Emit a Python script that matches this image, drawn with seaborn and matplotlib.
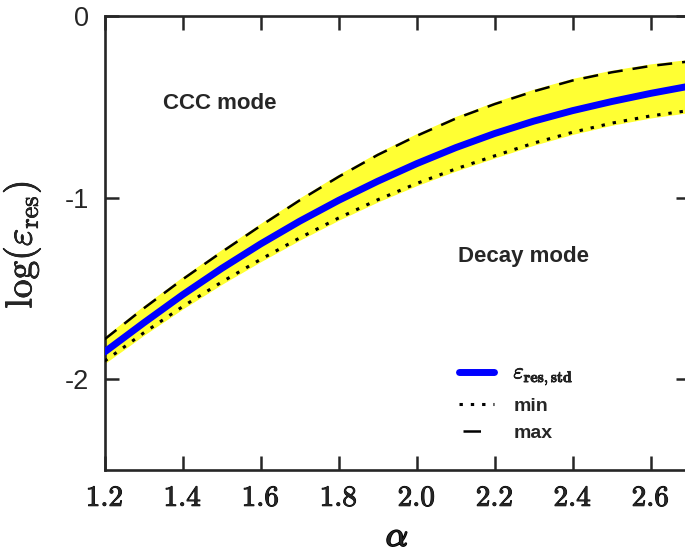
import numpy as np
import pandas as pd
import matplotlib
matplotlib.use("Agg")
import matplotlib.pyplot as plt
import matplotlib.patheffects as pe
import seaborn as sns
from matplotlib.ticker import FixedLocator, FixedFormatter

alpha = [1.2, 1.3, 1.4, 1.5, 1.6, 1.7, 1.8, 1.9, 2.0, 2.1, 2.2, 2.3, 2.4, 2.5, 2.6, 2.7]
eps_std = [-1.85, -1.69, -1.535, -1.39, -1.255, -1.13, -1.015, -0.91, -0.813, -0.725,
           -0.647, -0.579, -0.521, -0.471, -0.426, -0.386]
eps_max = [-1.78, -1.61, -1.45, -1.30, -1.155, -1.015, -0.885, -0.765, -0.66, -0.565,
           -0.485, -0.415, -0.355, -0.31, -0.275, -0.25]
eps_min = [-1.90, -1.745, -1.60, -1.465, -1.34, -1.222, -1.112, -1.012, -0.922, -0.842,
           -0.77, -0.70, -0.64, -0.59, -0.55, -0.52]
xticks = [1.2, 1.4, 1.6, 1.8, 2.0, 2.2, 2.4, 2.6]
xticklabels = ["1.2", "1.4", "1.6", "1.8", "2.0", "2.2", "2.4", "2.6"]
yticks = [0, -1, -2]
yticklabels = ["0", "-1", "-2"]

df = pd.DataFrame({"alpha": alpha, "std": eps_std, "max": eps_max, "min": eps_min})

sns.set_style("ticks")
plt.rcParams["font.family"] = ["Liberation Sans", "DejaVu Sans"]
plt.rcParams["mathtext.fontset"] = "cm"

fig = plt.figure(figsize=(6.85, 5.6), dpi=100)
ax = fig.add_axes([0.1528, 0.1607, 0.854, 0.8107])

ax.fill_between(df["alpha"], df["min"], df["max"], color="#ffff33",
                edgecolor="#ffff33", linewidth=3, zorder=1)
sns.lineplot(data=df, x="alpha", y="std", ax=ax, color="#0000ff", linewidth=5,
             label=r"$\varepsilon_{\mathbf{res,std}}$", zorder=3)
sns.lineplot(data=df, x="alpha", y="min", ax=ax, color="black", linewidth=2.2,
             label="min", zorder=4)
sns.lineplot(data=df, x="alpha", y="max", ax=ax, color="black", linewidth=1.8,
             label="max", zorder=4)
lines = ax.get_lines()
lines[1].set_dashes([1.1, 2.6])
lines[2].set_dashes([6, 4])

ax.set_xlim(1.2, 2.7)
ax.set_ylim(-2.5, 0)
ax.xaxis.set_major_locator(FixedLocator(xticks))
ax.xaxis.set_major_formatter(FixedFormatter([r"$\mathbf{%s}$" % t for t in xticklabels]))
ax.yaxis.set_major_locator(FixedLocator(yticks))
ax.yaxis.set_major_formatter(FixedFormatter(yticklabels))
ax.tick_params(axis="both", direction="in", length=10, width=1.8,
               top=True, right=True)
ax.tick_params(axis="x", labelsize=21, pad=10)
ax.tick_params(axis="y", labelsize=19.5, pad=11)
for lab in ax.get_xticklabels():
    lab.set_path_effects([pe.withStroke(linewidth=0.7, foreground="black")])
for s in ax.spines.values():
    s.set_linewidth(1.9)
    s.set_visible(True)

ax.set_xlabel(r"$\alpha$", fontsize=25)
ax.xaxis.label.set_path_effects([pe.withStroke(linewidth=1.3, foreground="black")])
ax.xaxis.set_label_coords(0.5, -0.11)
ax.xaxis.label.set_va("top")
ax.set_ylabel(r"$\log(\varepsilon_{\rm res})$", fontsize=27)
ax.yaxis.label.set_path_effects([pe.withStroke(linewidth=0.5, foreground="black")])
ax.yaxis.set_label_coords(-0.105, 0.496)

ax.text(1.495, -0.479, "CCC mode", fontsize=16, fontweight="bold",
        ha="center", va="center")
ax.text(2.274, -1.327, "Decay mode", fontsize=16, fontweight="bold",
        ha="center", va="center")

leg = ax.legend(loc="upper left", bbox_to_anchor=(0.6056, 0.237), frameon=False,
                handlelength=1.8, handletextpad=1.0, labelspacing=0.5,
                borderpad=0, borderaxespad=0,
                prop={"weight": "bold", "size": 14})
leg.get_texts()[0].set_fontsize(16)
leg.get_texts()[0].set_path_effects([pe.withStroke(linewidth=0.5, foreground="black")])
leg.get_lines()[2].set_linestyle((0, (0.001, 1.6, 7, 100)))

fig.savefig("out.png", dpi=100)
